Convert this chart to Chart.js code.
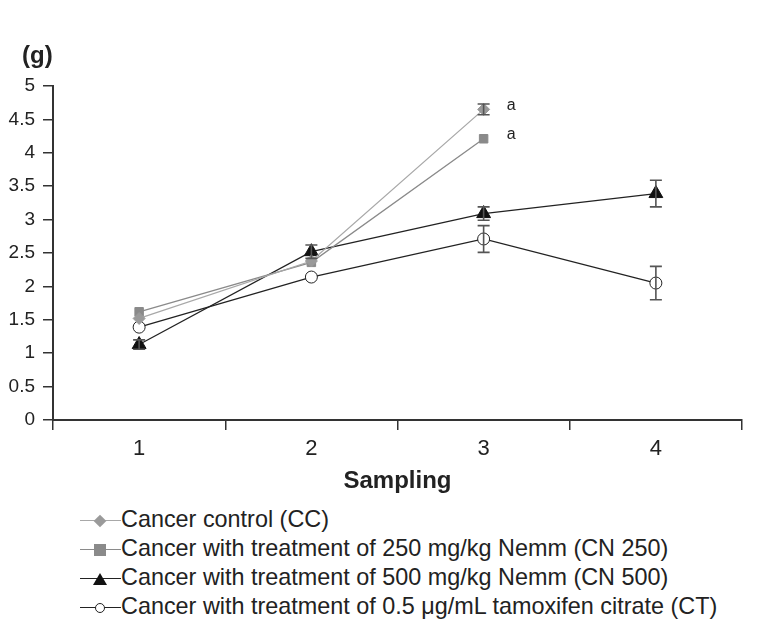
<!DOCTYPE html>
<html>
<head>
<meta charset="utf-8">
<script src="https://cdn.jsdelivr.net/npm/chart.js@4.4.1/dist/chart.umd.min.js"></script>
<style>
  body { margin: 0; background: #fff; font-family: "Liberation Sans", Arial, sans-serif; }
  #wrap { position: relative; width: 771px; height: 636px; }
  #chartBox { position: absolute; left: 0; top: 0; width: 771px; height: 500px; }
  #unit { position: absolute; left: 22px; top: 41px; font-size: 24px; font-weight: bold; color: #222; }
  #legend { position: absolute; left: 80px; top: 505px; color: #222; font-size: 23.4px; }
  .row { height: 29px; line-height: 29px; display: flex; align-items: center; }
  .ico { position: relative; width: 41px; height: 29px; }
  .ico .ln { position: absolute; left: 0; right: 0; top: 15px; height: 1px; }
  .ico .mk { position: absolute; left: 20px; top: 15.5px; transform: translate(-50%, -50%); }
</style>
</head>
<body>
<div id="wrap">
  <div id="chartBox"><canvas id="grafico" width="771" height="500"></canvas></div>
  <div id="unit">(g)</div>
  <div id="legend"></div>
</div>
<script>
// dados
const amostragens = ['1', '2', '3', '4'];
const rotulos = [
    'Cancer control (CC)',
    'Cancer with treatment of 250 mg/kg Nemm (CN 250)',
    'Cancer with treatment of 500 mg/kg Nemm (CN 500)',
    'Cancer with treatment of 0.5 μg/mL tamoxifen citrate (CT)'
];
const cc = [1.52, 2.38, 4.65, null];
const cn250 = [1.62, 2.36, 4.21, null];
const cn500 = [1.13, 2.52, 3.09, 3.39];
const ct = [1.39, 2.14, 2.71, 2.05];
// desvio (barras de erro)
const ccErro = [0, 0, 0.08, null];
const cn250Erro = [0, 0, 0, null];
const cn500Erro = [0.07, 0.1, 0.1, 0.2];
const ctErro = [0, 0, 0.2, 0.25];
// letras de significância no ponto 3
const letras = [['a', 0, 2], ['a', 1, 2]];
const yTicks = [0, 0.5, 1, 1.5, 2, 2.5, 3, 3.5, 4, 4.5, 5];

const erros = [ccErro, cn250Erro, cn500Erro, ctErro];

// plugin para barras de erro e letras
const barrasErro = {
    id: 'barrasErro',
    afterDatasetsDraw(chart) {
        const ctx = chart.ctx;
        const x = chart.scales.x, y = chart.scales.y;
        ctx.save();
        ctx.strokeStyle = '#555';
        ctx.lineWidth = 1.6;
        erros.forEach((arr, d) => {
            arr.forEach((e, i) => {
                if (!e) return;
                const v = chart.data.datasets[d].data[i];
                const px = x.getPixelForValue(i);
                const top = y.getPixelForValue(v + e);
                const bot = y.getPixelForValue(v - e);
                ctx.beginPath();
                ctx.moveTo(px, top); ctx.lineTo(px, bot);
                ctx.moveTo(px - 6, top); ctx.lineTo(px + 6, top);
                ctx.moveTo(px - 6, bot); ctx.lineTo(px + 6, bot);
                ctx.stroke();
            });
        });
        ctx.fillStyle = '#222';
        ctx.font = '16px "Liberation Sans", Arial, sans-serif';
        ctx.textBaseline = 'middle';
        letras.forEach(([t, d, i]) => {
            const v = chart.data.datasets[d].data[i];
            ctx.fillText(t, x.getPixelForValue(i) + 23, y.getPixelForValue(v) - 4);
        });
        ctx.restore();
    }
};

const estilos = [
    { cor: '#9a9a9a', linha: '#a8a8a8', ponto: 'rectRot', raio: 6, fundo: '#9a9a9a' },
    { cor: '#8a8a8a', linha: '#8a8a8a', ponto: 'rect', raio: 6, fundo: '#8a8a8a' },
    { cor: '#111', linha: '#222', ponto: 'triangle', raio: 8, fundo: '#111' },
    { cor: '#222', linha: '#222', ponto: 'circle', raio: 6, fundo: '#fff' }
];
const series = [cc, cn250, cn500, ct];

const ctx = document.getElementById('grafico').getContext('2d');
new Chart(ctx, {
    type: 'line',
    data: {
        labels: amostragens,
        datasets: series.map((s, k) => ({
            label: rotulos[k],
            data: s,
            borderColor: estilos[k].linha,
            borderWidth: 1.3,
            pointStyle: estilos[k].ponto,
            pointRadius: estilos[k].raio,
            pointBackgroundColor: estilos[k].fundo,
            pointBorderColor: estilos[k].cor,
            pointBorderWidth: 1,
            spanGaps: false,
            fill: false
        }))
    },
    options: {
        responsive: false,
        animation: false,
        layout: { padding: { top: 86, right: 29, left: 0, bottom: 0 } },
        plugins: {
            legend: { display: false },
            tooltip: { enabled: false }
        },
        scales: {
            x: {
                offset: true,
                grid: { offset: true, drawOnChartArea: false, drawTicks: true, tickLength: 10, color: '#333', lineWidth: 1.5 },
                border: { color: '#333', width: 2 },
                ticks: { color: '#222', font: { size: 22, family: '"Liberation Sans", Arial' }, padding: 6 },
                title: { display: true, text: 'Sampling', color: '#222', font: { size: 24, weight: 'bold', family: '"Liberation Sans", Arial' }, padding: { top: 0 } },
                afterFit(s) { s.height = 80; }
            },
            y: {
                min: 0,
                max: 5,
                afterBuildTicks(s) { s.ticks = yTicks.map(v => ({ value: v })); },
                grid: { drawOnChartArea: false, drawTicks: true, tickLength: 10, color: '#333', lineWidth: 1.5 },
                border: { color: '#333', width: 2 },
                ticks: { color: '#222', font: { size: 19, family: '"Liberation Sans", Arial' }, padding: 8, callback: v => String(v) },
                afterFit(s) { s.width = 53; }
            }
        }
    },
    plugins: [barrasErro]
});

// legenda em HTML
const simbolos = [
    '<div class="mk" style="width:9px;height:9px;background:#9a9a9a;transform:translate(-50%,-50%) rotate(45deg)"></div>',
    '<div class="mk" style="width:12px;height:12px;background:#8a8a8a"></div>',
    '<div class="mk" style="width:0;height:0;border-left:7px solid transparent;border-right:7px solid transparent;border-bottom:12px solid #111"></div>',
    '<div class="mk" style="width:8px;height:8px;border:1px solid #222;border-radius:50%;background:#fff"></div>'
];
const corLinha = ['#a8a8a8', '#8a8a8a', '#222', '#222'];
document.getElementById('legend').innerHTML = rotulos.map((r, k) => `
    <div class="row">
        <div class="ico"><div class="ln" style="background:${corLinha[k]}"></div>${simbolos[k]}</div>
        <span>${r}</span>
    </div>`).join('');
</script>
</body>
</html>
